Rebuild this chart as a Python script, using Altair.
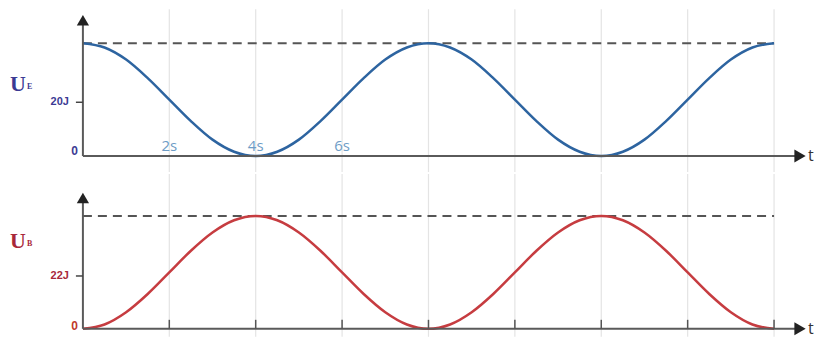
import altair as alt
import pandas as pd

# ---------------- data ----------------
t_s = [0, 0.5, 1, 1.5, 2, 2.5, 3, 3.5, 4, 4.5, 5, 5.5, 6, 6.5, 7, 7.5, 8,
       8.5, 9, 9.5, 10, 10.5, 11, 11.5, 12, 12.5, 13, 13.5, 14, 14.5, 15, 15.5, 16]
u_e = [42, 40.4, 35.9, 29.0, 21.0, 13.0, 6.1, 1.6, 0, 1.6, 6.1, 13.0, 21.0, 29.0, 35.9, 40.4, 42,
       40.4, 35.9, 29.0, 21.0, 13.0, 6.1, 1.6, 0, 1.6, 6.1, 13.0, 21.0, 29.0, 35.9, 40.4, 42]
u_b = [0, 1.8, 6.9, 14.5, 23.5, 32.5, 40.1, 45.2, 47, 45.2, 40.1, 32.5, 23.5, 14.5, 6.9, 1.8, 0,
       1.8, 6.9, 14.5, 23.5, 32.5, 40.1, 45.2, 47, 45.2, 40.1, 32.5, 23.5, 14.5, 6.9, 1.8, 0]
grid_t = [2, 4, 6, 8, 10, 12, 14, 16]
s_label_t = [2, 4, 6]
s_labels = ["2s", "4s", "6s"]
UE_MAX, UE_TICK, UE_TICK_LABEL = 42, 20, "20J"
UB_MAX, UB_TICK, UB_TICK_LABEL = 47, 22, "22J"
T_END = 16

# ---------------- layout ----------------
W, H = 806, 163
PX_PER_S = 43.25
ORIGIN_PX = 83            # page x of t = 0
XMIN = -(ORIGIN_PX - 8) / PX_PER_S
XMAX = XMIN + W / PX_PER_S
xs = alt.Scale(domain=[XMIN, XMAX], nice=False, zero=False)


def tx(px):
    return XMIN + (px - 8) / PX_PER_S


def panel(values, vmax, tick_val, tick_label, line_color, lab_color, sub,
          base_rel, max_rel, arrow_rel, show_s, show_ticks, zero_color, u_rel, zero_rel):
    s = (base_rel - max_rel) / vmax
    ys = alt.Scale(domain=[-(H - base_rel) / s, base_rel / s], nice=False, zero=False)

    def ty(py_rel):
        return (base_rel - py_rel) / s

    X = lambda f: alt.X(f, type="quantitative", scale=xs, axis=None)
    Y = lambda f: alt.Y(f, type="quantitative", scale=ys, axis=None)

    layers = []
    gdf = pd.DataFrame({"t": grid_t})
    layers.append(alt.Chart(gdf).mark_rule(color="#e4e4e4", strokeWidth=1.2).encode(
        x=X("t"), y=alt.value(0), y2=alt.value(H)))
    ddf = pd.DataFrame({"t0": [0], "t1": [T_END], "v": [vmax]})
    layers.append(alt.Chart(ddf).mark_rule(color="#555555", strokeWidth=2, strokeDash=[9, 6]).encode(
        x=X("t0"), x2="t1", y=Y("v")))
    cdf = pd.DataFrame({"t": t_s, "v": values})
    layers.append(alt.Chart(cdf).mark_line(color=line_color, strokeWidth=2.5, interpolate="monotone").encode(
        x=X("t"), y=Y("v")))
    # axes
    axdf = pd.DataFrame({"x0": [0, 0], "x1": [tx(797), 0], "y0": [0, 0], "y1": [0, ty(arrow_rel + 8)]})
    layers.append(alt.Chart(axdf).mark_rule(color="#5a5a5a", strokeWidth=2).encode(
        x=X("x0"), x2="x1", y=Y("y0"), y2="y1"))
    ardf = pd.DataFrame({"x": [tx(801)], "y": [0]})
    layers.append(alt.Chart(ardf).mark_point(shape="triangle-right", filled=True, opacity=1,
                                             color="#222222", size=170).encode(x=X("x"), y=Y("y")))
    audf = pd.DataFrame({"x": [0], "y": [ty(arrow_rel + 7)]})
    layers.append(alt.Chart(audf).mark_point(shape="triangle-up", filled=True, opacity=1,
                                             color="#222222", size=150).encode(x=X("x"), y=Y("y")))
    # y tick
    tkdf = pd.DataFrame({"x0": [tx(76)], "x1": [0], "y": [tick_val]})
    layers.append(alt.Chart(tkdf).mark_rule(color="#444444", strokeWidth=1.5).encode(
        x=X("x0"), x2="x1", y=Y("y")))
    if show_ticks:
        xtdf = pd.DataFrame({"t": grid_t, "y0": [0] * len(grid_t), "y1": [ty(base_rel - 9)] * len(grid_t)})
        layers.append(alt.Chart(xtdf).mark_rule(color="#555555", strokeWidth=1.5).encode(
            x=X("t"), y=Y("y0"), y2="y1"))
    if show_s:
        sdf = pd.DataFrame({"t": s_label_t, "lab": s_labels, "y": [ty(base_rel - 10)] * len(s_labels)})
        layers.append(alt.Chart(sdf).mark_text(font="Open Sans", fontSize=15, color="#6d9cc6",
                                               baseline="middle", align="center").encode(
            x=X("t"), y=Y("y"), text="lab:N"))
    # labels
    udf = pd.DataFrame({"x": [tx(18)], "y": [ty(u_rel)], "lab": ["U"]})
    layers.append(alt.Chart(udf).mark_text(font="Liberation Serif", fontWeight="bold", fontSize=22,
                                           color=lab_color, baseline="middle", align="center").encode(
        x=X("x"), y=Y("y"), text="lab:N"))
    subdf = pd.DataFrame({"x": [tx(27)], "y": [ty(u_rel + 3)], "lab": [sub]})
    layers.append(alt.Chart(subdf).mark_text(font="Liberation Serif", fontWeight="bold", fontSize=8,
                                             color=lab_color, baseline="middle", align="left").encode(
        x=X("x"), y=Y("y"), text="lab:N"))
    tldf = pd.DataFrame({"x": [tx(69)], "y": [tick_val], "lab": [tick_label]})
    layers.append(alt.Chart(tldf).mark_text(font="Liberation Sans", fontWeight="bold", fontSize=11,
                                            color=lab_color, baseline="middle", align="right").encode(
        x=X("x"), y=Y("y"), text="lab:N"))
    zdf = pd.DataFrame({"x": [tx(78)], "y": [ty(zero_rel)], "lab": ["0"]})
    layers.append(alt.Chart(zdf).mark_text(font="Liberation Sans", fontWeight="bold", fontSize=12,
                                           color=zero_color, baseline="middle", align="right").encode(
        x=X("x"), y=Y("y"), text="lab:N"))
    tdf = pd.DataFrame({"x": [tx(809)], "y": [0], "lab": ["t"]})
    layers.append(alt.Chart(tdf).mark_text(font="Open Sans", fontSize=16, color="#333333",
                                           baseline="middle", align="left").encode(
        x=X("x"), y=Y("y"), text="lab:N"))
    return alt.layer(*layers).properties(width=W, height=H)


top = panel(u_e, UE_MAX, UE_TICK, UE_TICK_LABEL, "#2d64a0", "#3b3a93", "E",
            base_rel=147, max_rel=34, arrow_rel=4, show_s=True, show_ticks=False,
            zero_color="#3b3a93", u_rel=75, zero_rel=142)
bottom = panel(u_b, UB_MAX, UB_TICK, UB_TICK_LABEL, "#c63c40", "#a8283a", "B",
               base_rel=155, max_rel=42, arrow_rel=17, show_s=False, show_ticks=True,
               zero_color="#c0392b", u_rel=67, zero_rel=152)

chart = alt.vconcat(top, bottom, spacing=0).properties(padding=0).configure_view(stroke=None)
chart.save("out.html", embed_options={"renderer": "svg", "actions": False})
